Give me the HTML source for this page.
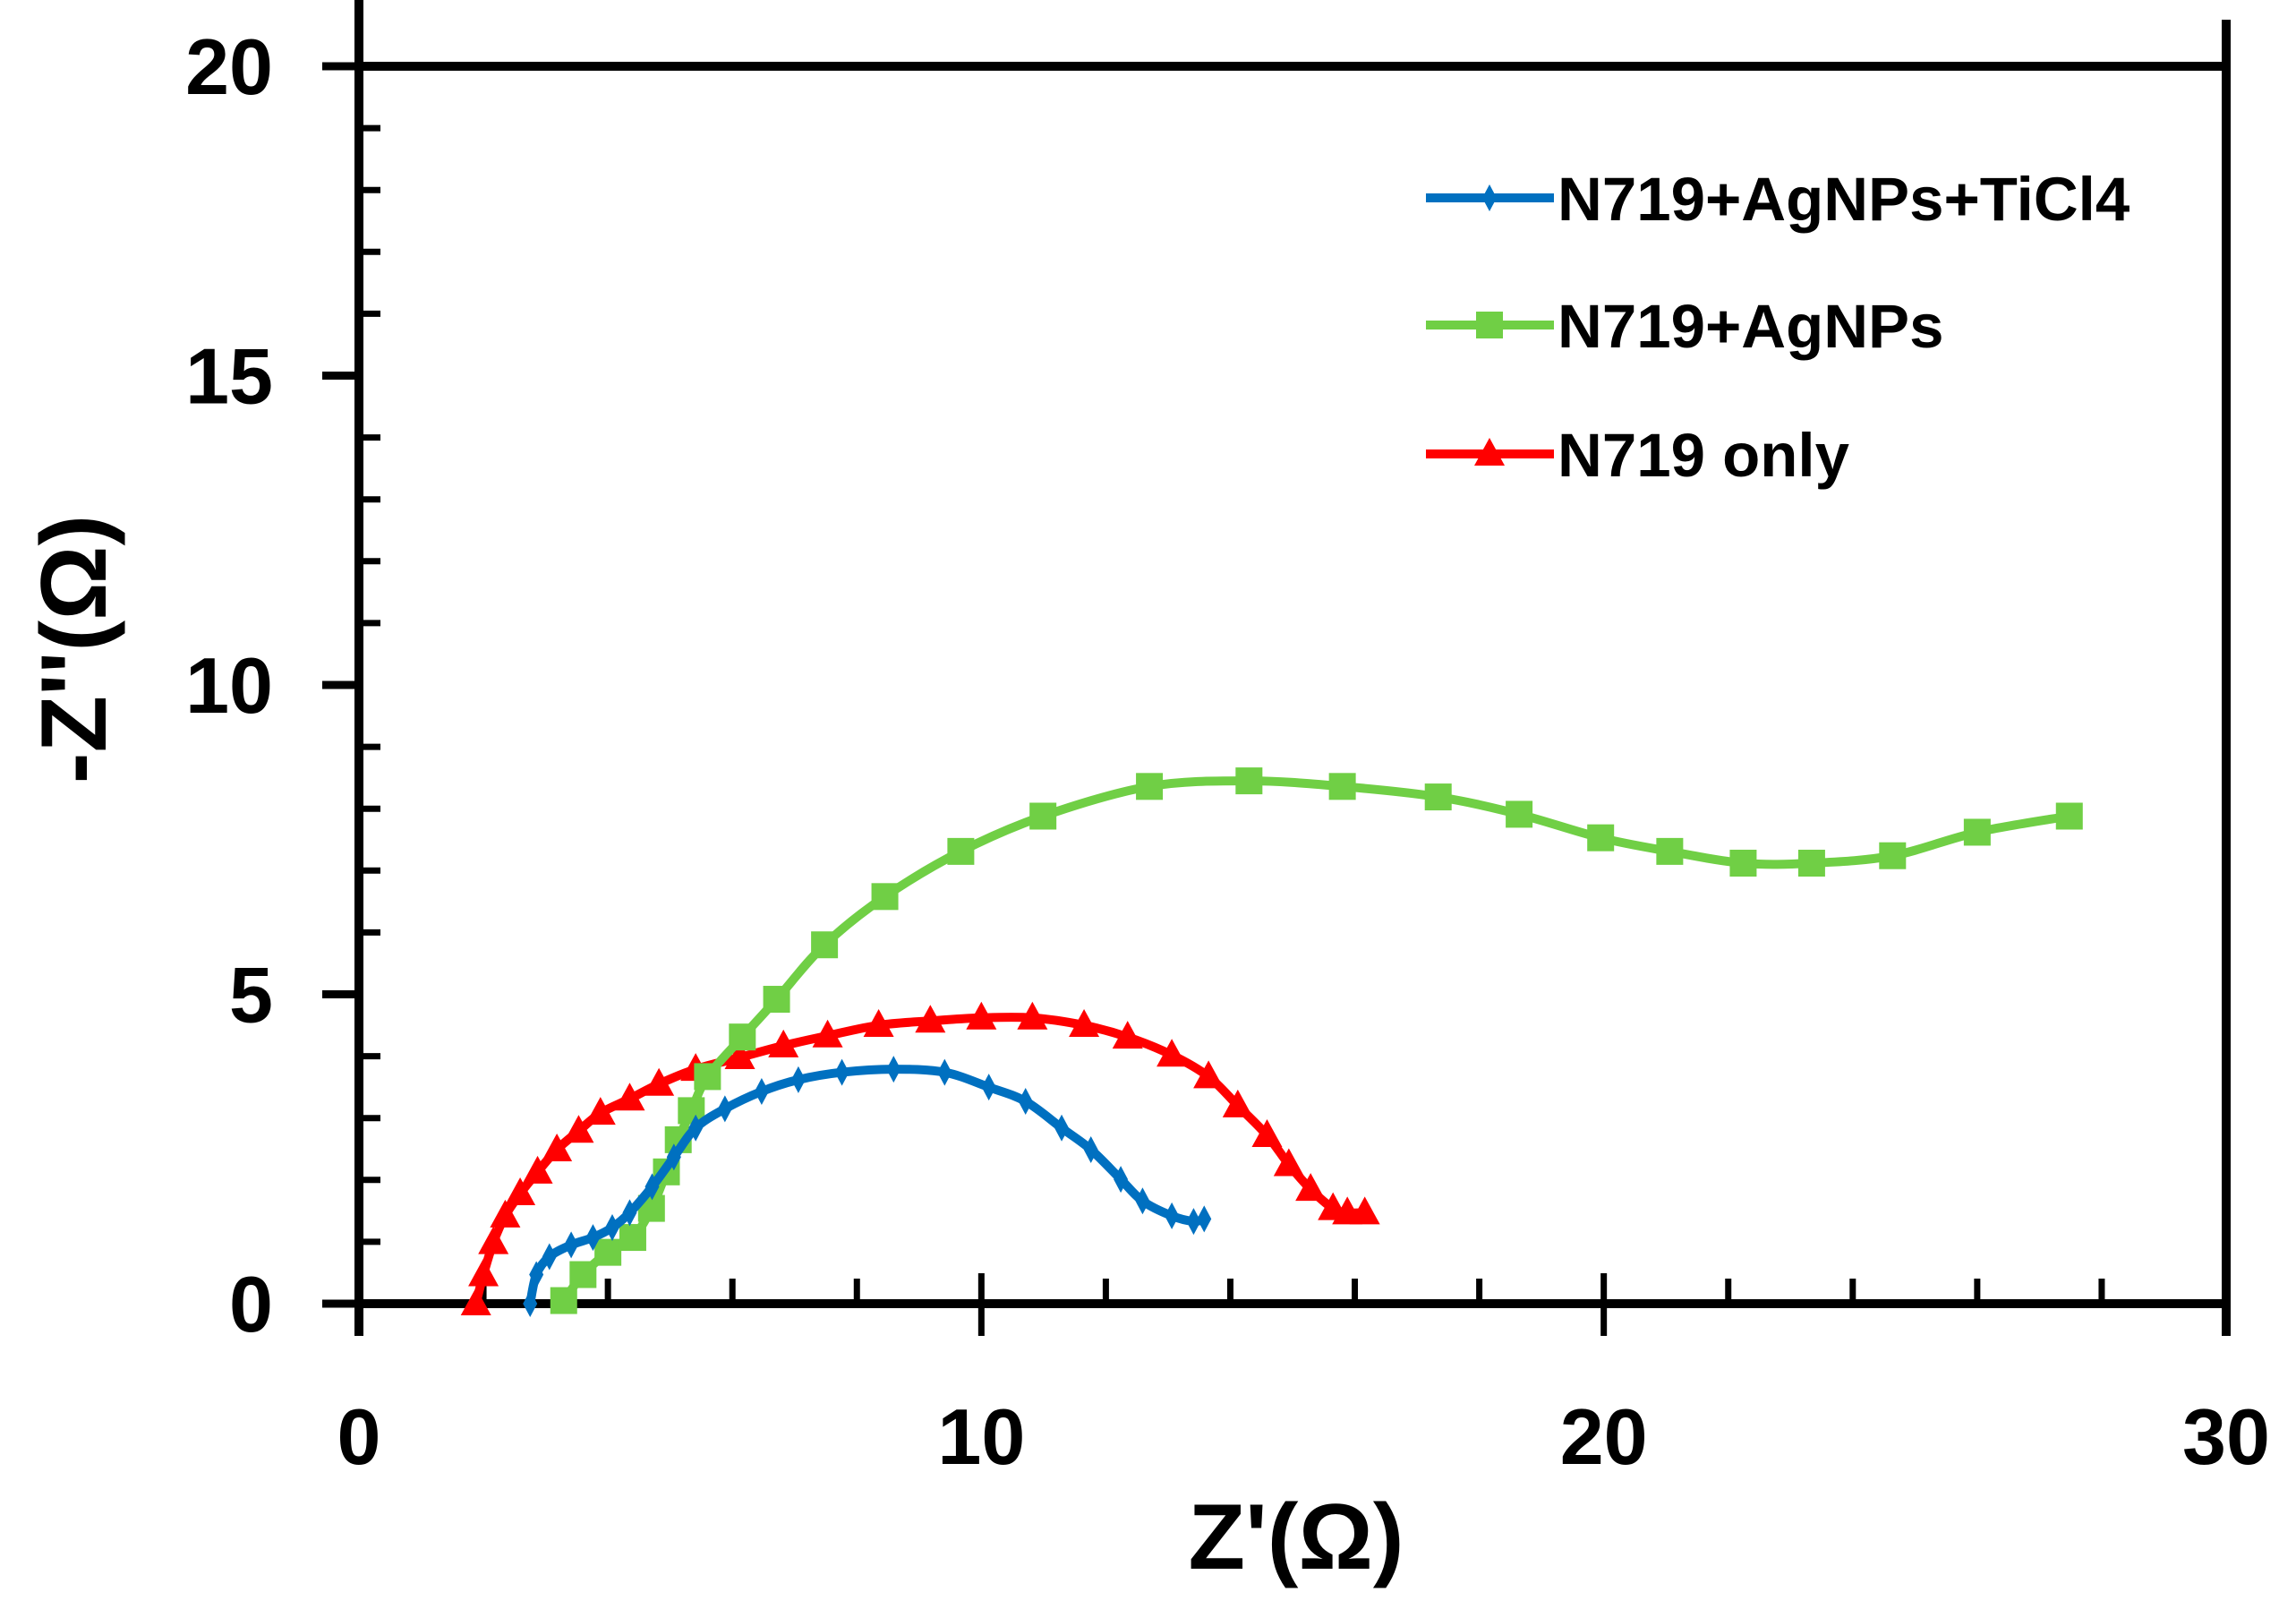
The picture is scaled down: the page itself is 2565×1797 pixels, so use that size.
<!DOCTYPE html>
<html><head><meta charset="utf-8"><style>
html,body{margin:0;padding:0;background:#fff;}
svg{display:block;}
text{font-family:"Liberation Sans",Arial,sans-serif;font-weight:bold;fill:#000;}
</style></head><body>
<svg id="chart" width="2565" height="1797" viewBox="0 0 2565 1797" xmlns="http://www.w3.org/2000/svg">
<g id="axes"></g>
<g id="series"></g>
<g id="legend"></g>
<text x="1448" y="1752" font-size="104" text-anchor="middle">Z'(Ω)</text>
<text x="0" y="0" font-size="104" text-anchor="middle" transform="translate(118,725) rotate(-90)">-Z''(Ω)</text>
</svg>
<script>
const xTicks = [0, 10, 20, 30];
const yTicks = [0, 5, 10, 15, 20];
const blueX = [2.75,2.85,3.06,3.41,3.76,4.07,4.35,4.71,5.06,5.41,5.88,6.47,7.06,7.76,8.59,9.41,10.12,10.71,11.29,11.76,12.24,12.59,13.06,13.41,13.58];
const blueY = [0,0.47,0.76,0.95,1.07,1.23,1.47,1.89,2.37,2.84,3.15,3.43,3.62,3.74,3.79,3.74,3.5,3.27,2.84,2.49,2.01,1.66,1.42,1.33,1.37];
const greenX = [3.29,3.6,4.0,4.4,4.7,4.94,5.13,5.34,5.6,6.16,6.71,7.48,8.45,9.67,10.99,12.7,14.3,15.8,17.34,18.64,19.95,21.06,22.24,23.34,24.64,26.0,27.48];
const greenY = [0.05,0.47,0.83,1.07,1.54,2.13,2.65,3.12,3.67,4.31,4.92,5.8,6.58,7.31,7.88,8.36,8.45,8.36,8.19,7.91,7.53,7.31,7.12,7.12,7.24,7.62,7.88];
const redX = [1.88,2.0,2.16,2.35,2.59,2.87,3.18,3.53,3.88,4.35,4.82,5.41,6.12,6.82,7.53,8.35,9.18,10.0,10.82,11.65,12.35,13.06,13.65,14.12,14.59,14.94,15.29,15.65,15.88,16.16];
const redY = [0,0.47,0.99,1.42,1.78,2.13,2.49,2.79,3.08,3.31,3.55,3.79,3.98,4.17,4.33,4.5,4.57,4.62,4.62,4.5,4.31,4.02,3.67,3.2,2.72,2.25,1.85,1.54,1.47,1.47];
const seriesNames = ["N719+AgNPs+TiCl4","N719+AgNPs","N719 only"];

const L=401,R=2487,T=74,B=1456;
const sx=v=>L+(v/30)*(R-L);
const sy=v=>B-(v/20)*(B-T);
const NS="http://www.w3.org/2000/svg";
function mk(tag,attrs,parent){const e=document.createElementNS(NS,tag);for(const k in attrs)e.setAttribute(k,attrs[k]);parent.appendChild(e);return e;}
const axes=document.getElementById('axes');
function line(x1,y1,x2,y2,w,name){const e=mk('line',{x1,y1,x2,y2,stroke:'#000','stroke-width':w},axes);

}
line(L,T,R,T,10,'top-border');
line(L,B,R,B,10,'x-axis-line');
line(L,0,L,1492,10,'y-axis-line');
line(R,22,R,1492,10,'right-border');
for(let v=0;v<=20;v++){const y=sy(v);
 if(v%5===0){line(360,y,L,y,9,'y-major-tick');}
 else line(L,y,L+24,y,7,'y-minor-tick');}
for(let v=2;v<30;v+=2){if(v%10===0)continue;line(sx(v),B,sx(v),B-28,7,'x-minor-tick');}
for(const v of [10,20]){line(sx(v),B-34,sx(v),B+36,7,'x-major-tick');}
yTicks.forEach(v=>{const t=mk('text',{x:305,y:sy(v)+31,'font-size':88,'text-anchor':'end'},axes);t.textContent=v;

});
xTicks.forEach(v=>{const t=mk('text',{x:sx(v),y:1635,'font-size':88,'text-anchor':'middle'},axes);t.textContent=v;

});

function smooth(px,py){let d=`M${px[0]},${py[0]}`;
 for(let i=0;i<px.length-1;i++){const i0=Math.max(0,i-1),i2=i+1,i3=Math.min(px.length-1,i+2);
 const c1x=px[i]+(px[i2]-px[i0])/6,c1y=py[i]+(py[i2]-py[i0])/6,c2x=px[i2]-(px[i3]-px[i])/6,c2y=py[i2]-(py[i3]-py[i])/6;
 d+=` C${c1x},${c1y} ${c2x},${c2y} ${px[i2]},${py[i2]}`;}return d;}
function marker(g,type,x,y,col){let e;
 if(type==='sq')e=mk('rect',{x:x-15,y:y-15,width:30,height:30,fill:col},g);
 else if(type==='tri')e=mk('polygon',{points:`${x},${y-18} ${x-17},${y+13} ${x+17},${y+13}`,fill:col},g);
 else e=mk('polygon',{points:`${x},${y-15} ${x+8},${y} ${x},${y+15} ${x-8},${y}`,fill:col},g);
 return e;}
const ser=document.getElementById('series');
const defs=[[redX,redY,'#ff0000','tri','series-n719-only'],[greenX,greenY,'#70cf45','sq','series-n719-agnps'],[blueX,blueY,'#0070c0','dia','series-n719-agnps-ticl4']];
defs.forEach(([xs,ys,col,m,name])=>{const g=mk('g',{},ser);
 
 
 const p=mk('path',{d:smooth(xs.map(sx),ys.map(sy)),fill:'none',stroke:col,'stroke-width':10},g);
 
 
 xs.forEach((v,i)=>{const e=marker(g,m,sx(v),sy(ys[i]),col);
 
 });});

const leg=document.getElementById('legend');
const legCols=['#0070c0','#70cf45','#ff0000'],legM=['dia','sq','tri'],legY=[221,363,507];
seriesNames.forEach((n,i)=>{const g=mk('g',{},leg);
 
 
 mk('line',{x1:1593,y1:legY[i],x2:1736,y2:legY[i],stroke:legCols[i],'stroke-width':10},g);
 marker(g,legM[i],1664,legY[i],legCols[i]);
 const t=mk('text',{x:1740,y:legY[i]+25,'font-size':69},g);t.textContent=n;
 
 });
</script>
</body></html>
